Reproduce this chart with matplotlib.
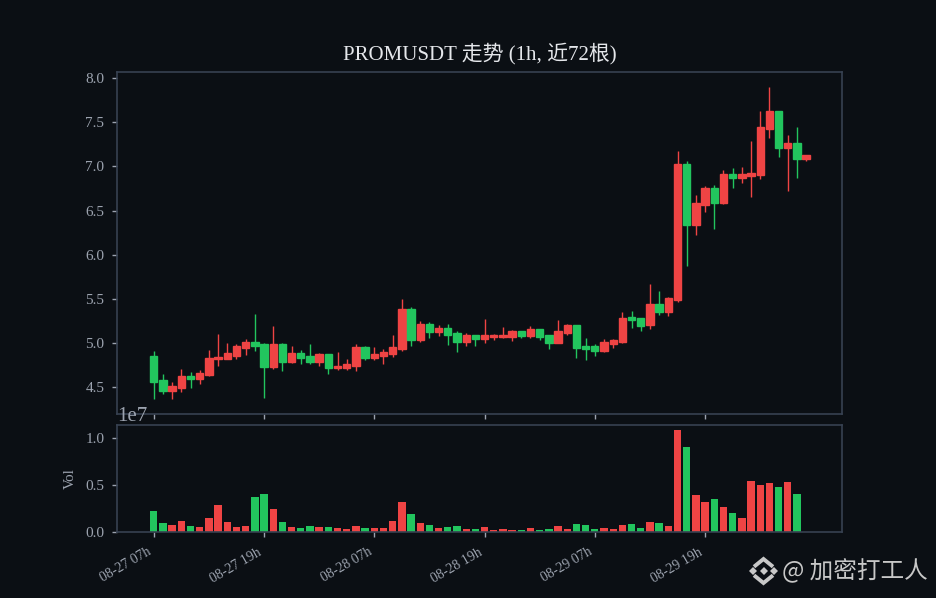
import numpy as np
import matplotlib
matplotlib.use("Agg")
import matplotlib.pyplot as plt
from matplotlib.lines import Line2D

plt.rcParams['font.family'] = ['Liberation Serif', 'Noto Sans CJK SC']

BG = '#0b0f14'
UP = '#ef4444'
DOWN = '#22c55e'
GRID = '#374151'
TEXT = '#9ca3af'

# one hourly candle per entry
opens = [4.851, 4.579, 4.455, 4.489, 4.625, 4.591, 4.636, 4.817, 4.817, 4.851, 4.942, 5.010,
         4.987, 4.727, 4.987, 4.783, 4.885, 4.851, 4.783, 4.874, 4.715, 4.715, 4.738, 4.953,
         4.829, 4.851, 4.874, 4.931, 5.384, 5.032, 5.214, 5.123, 5.168, 5.112, 5.010, 5.089,
         5.044, 5.066, 5.066, 5.066, 5.134, 5.078, 5.157, 5.089, 4.998, 5.112, 5.202, 4.965,
         4.965, 4.908, 4.987, 5.010, 5.293, 5.282, 5.202, 5.440, 5.350, 5.486, 7.026, 6.335,
         6.561, 6.754, 6.584, 6.912, 6.867, 6.890, 6.901, 7.422, 7.626, 7.207, 7.264, 7.082]
highs = [4.908, 4.647, 4.557, 4.704, 4.670, 4.693, 4.919, 5.100, 4.998, 4.987, 5.044, 5.327,
         4.998, 5.191, 4.998, 4.965, 4.919, 4.987, 4.885, 4.874, 4.897, 4.817, 4.987, 4.965,
         4.953, 4.931, 5.089, 5.497, 5.406, 5.248, 5.236, 5.202, 5.214, 5.134, 5.112, 5.089,
         5.270, 5.100, 5.180, 5.146, 5.134, 5.191, 5.157, 5.089, 5.259, 5.214, 5.202, 5.055,
         4.987, 5.044, 5.044, 5.350, 5.361, 5.282, 5.667, 5.587, 5.519, 7.173, 7.060, 6.675,
         6.777, 6.788, 6.958, 6.980, 6.992, 7.286, 7.626, 7.898, 7.626, 7.354, 7.445, 7.128]
lows = [4.364, 4.421, 4.364, 4.444, 4.489, 4.534, 4.625, 4.738, 4.817, 4.817, 4.863, 4.908,
        4.376, 4.704, 4.681, 4.772, 4.761, 4.761, 4.738, 4.647, 4.693, 4.693, 4.681, 4.806,
        4.806, 4.761, 4.840, 4.908, 4.965, 5.010, 5.055, 5.078, 4.976, 4.897, 4.965, 4.965,
        4.998, 5.032, 5.055, 5.021, 5.055, 5.055, 5.032, 4.931, 4.998, 5.089, 4.829, 4.806,
        4.851, 4.897, 4.942, 4.998, 5.168, 5.134, 5.157, 5.316, 5.304, 5.463, 5.871, 6.222,
        6.482, 6.290, 6.573, 6.754, 6.811, 6.652, 6.856, 7.320, 7.105, 6.720, 6.867, 7.060]
closes = [4.557, 4.455, 4.512, 4.625, 4.591, 4.659, 4.829, 4.840, 4.885, 4.965, 5.010, 4.965,
          4.727, 4.987, 4.783, 4.885, 4.829, 4.783, 4.874, 4.715, 4.738, 4.761, 4.953, 4.829,
          4.874, 4.897, 4.953, 5.384, 5.032, 5.214, 5.123, 5.168, 5.089, 5.010, 5.089, 5.044,
          5.089, 5.089, 5.089, 5.134, 5.078, 5.157, 5.066, 4.998, 5.134, 5.202, 4.942, 4.931,
          4.908, 5.010, 5.032, 5.282, 5.259, 5.191, 5.440, 5.350, 5.508, 7.026, 6.335, 6.584,
          6.754, 6.584, 6.912, 6.867, 6.912, 6.924, 7.445, 7.626, 7.207, 7.264, 7.082, 7.128]
# volume in units of 1e7
volumes = [.227, .100, .078, .120, .067, .057, .152, .290, .110, .057, .067, .376,
           .408, .248, .110, .057, .046, .067, .057, .057, .046, .035, .067, .046,
           .046, .046, .120, .323, .195, .100, .078, .046, .057, .064, .036, .036,
           .053, .027, .036, .027, .027, .043, .027, .036, .064, .036, .085, .074,
           .036, .043, .036, .074, .085, .043, .106, .096, .064, 1.085, .904, .394,
           .319, .351, .266, .202, .149, .543, .500, .521, .479, .532, .404, .005]
tick_positions = [0, 12, 24, 36, 48, 60]
tick_labels = ['08-27 07h', '08-27 19h', '08-28 07h', '08-28 19h', '08-29 07h', '08-29 19h']

W, H = 936, 598


def px_axes(fig, left, top, right, bottom):
    """Axes placed by reference pixel edges."""
    return fig.add_axes([left / W, 1 - bottom / H, (right - left) / W, (bottom - top) / H])


def style(ax):
    ax.set_facecolor(BG)
    for s in ax.spines.values():
        s.set_color(GRID)
        s.set_linewidth(1.2)
    ax.tick_params(colors=TEXT, labelsize=10, length=3.5, width=1)
    ax.tick_params(axis='y', labelsize=11, pad=5.5)


def draw_logo(fig, cx, cy, color='#c8c8c8'):
    # small exchange mark next to the watermark
    def pt(dx, dy):
        return (cx + dx) / W, 1 - (cy + dy) / H

    for dx, dy, s in [(0, 0, 4), (-10.5, 0, 3.6), (10.5, 0, 3.6)]:
        x, y = pt(dx, dy)
        fig.add_artist(Line2D([x], [y], marker='D', ms=s, color=color, mew=0,
                              transform=fig.transFigure))
    for sign in (-1, 1):
        xs, ys = zip(pt(-8, sign * 5.5), pt(0, sign * 12), pt(8, sign * 5.5))
        fig.add_artist(Line2D(xs, ys, color=color, lw=2.8, solid_joinstyle='miter',
                              transform=fig.transFigure))


x = np.arange(len(opens))
o, h, l, c = map(np.array, (opens, highs, lows, closes))
colors = [UP if b >= a else DOWN for a, b in zip(o, c)]
vol = np.array(volumes) * 1e7

fig = plt.figure(figsize=(W / 100, H / 100), dpi=100, facecolor=BG)
ax = px_axes(fig, 117, 72, 842, 414)
ax_vol = px_axes(fig, 117, 425, 842, 532.3)

ax.vlines(x, l, h, colors=colors, lw=1, zorder=2)
ax.bar(x, np.maximum(np.abs(c - o), 0.005), 0.8, bottom=np.minimum(o, c), color=colors,
       edgecolor=colors, lw=1, zorder=3)
ax.set_xlim(-4.0, 74.9)
ax.set_ylim(4.195, 8.07)
ax.set_yticks([4.5, 5, 5.5, 6, 6.5, 7, 7.5, 8])
ax.set_xticks(tick_positions)
ax.set_xticklabels([])
style(ax)
ax.set_title('PROMUSDT 走势 (1h, 近72根)', color='#e5e7eb', fontsize=15, pad=9)

ax_vol.bar(x, vol, 0.8, color=colors)
ax_vol.set_xlim(-4.0, 74.9)
ax_vol.set_ylim(0, 1.14e7)
ax_vol.set_yticks([0, 0.5e7, 1e7])
ax_vol.set_xticks(tick_positions)
ax_vol.set_xticklabels(tick_labels, rotation=30, ha='right')
ax_vol.set_ylabel('Vol', color=TEXT, fontsize=11, labelpad=6)
style(ax_vol)
ax_vol.tick_params(axis='x', pad=6)
ax_vol.yaxis.get_offset_text().set_color(TEXT)
ax_vol.yaxis.get_offset_text().set_fontsize(15)

draw_logo(fig, 763.5, 571)
fig.text(782 / W, 1 - 571 / H, '@ 加密打工人', color='#c8c8c8', fontsize=17, va='center',
         family=['Noto Sans CJK SC', 'DejaVu Sans'])

fig.savefig('out.png', dpi=100, facecolor=BG)
